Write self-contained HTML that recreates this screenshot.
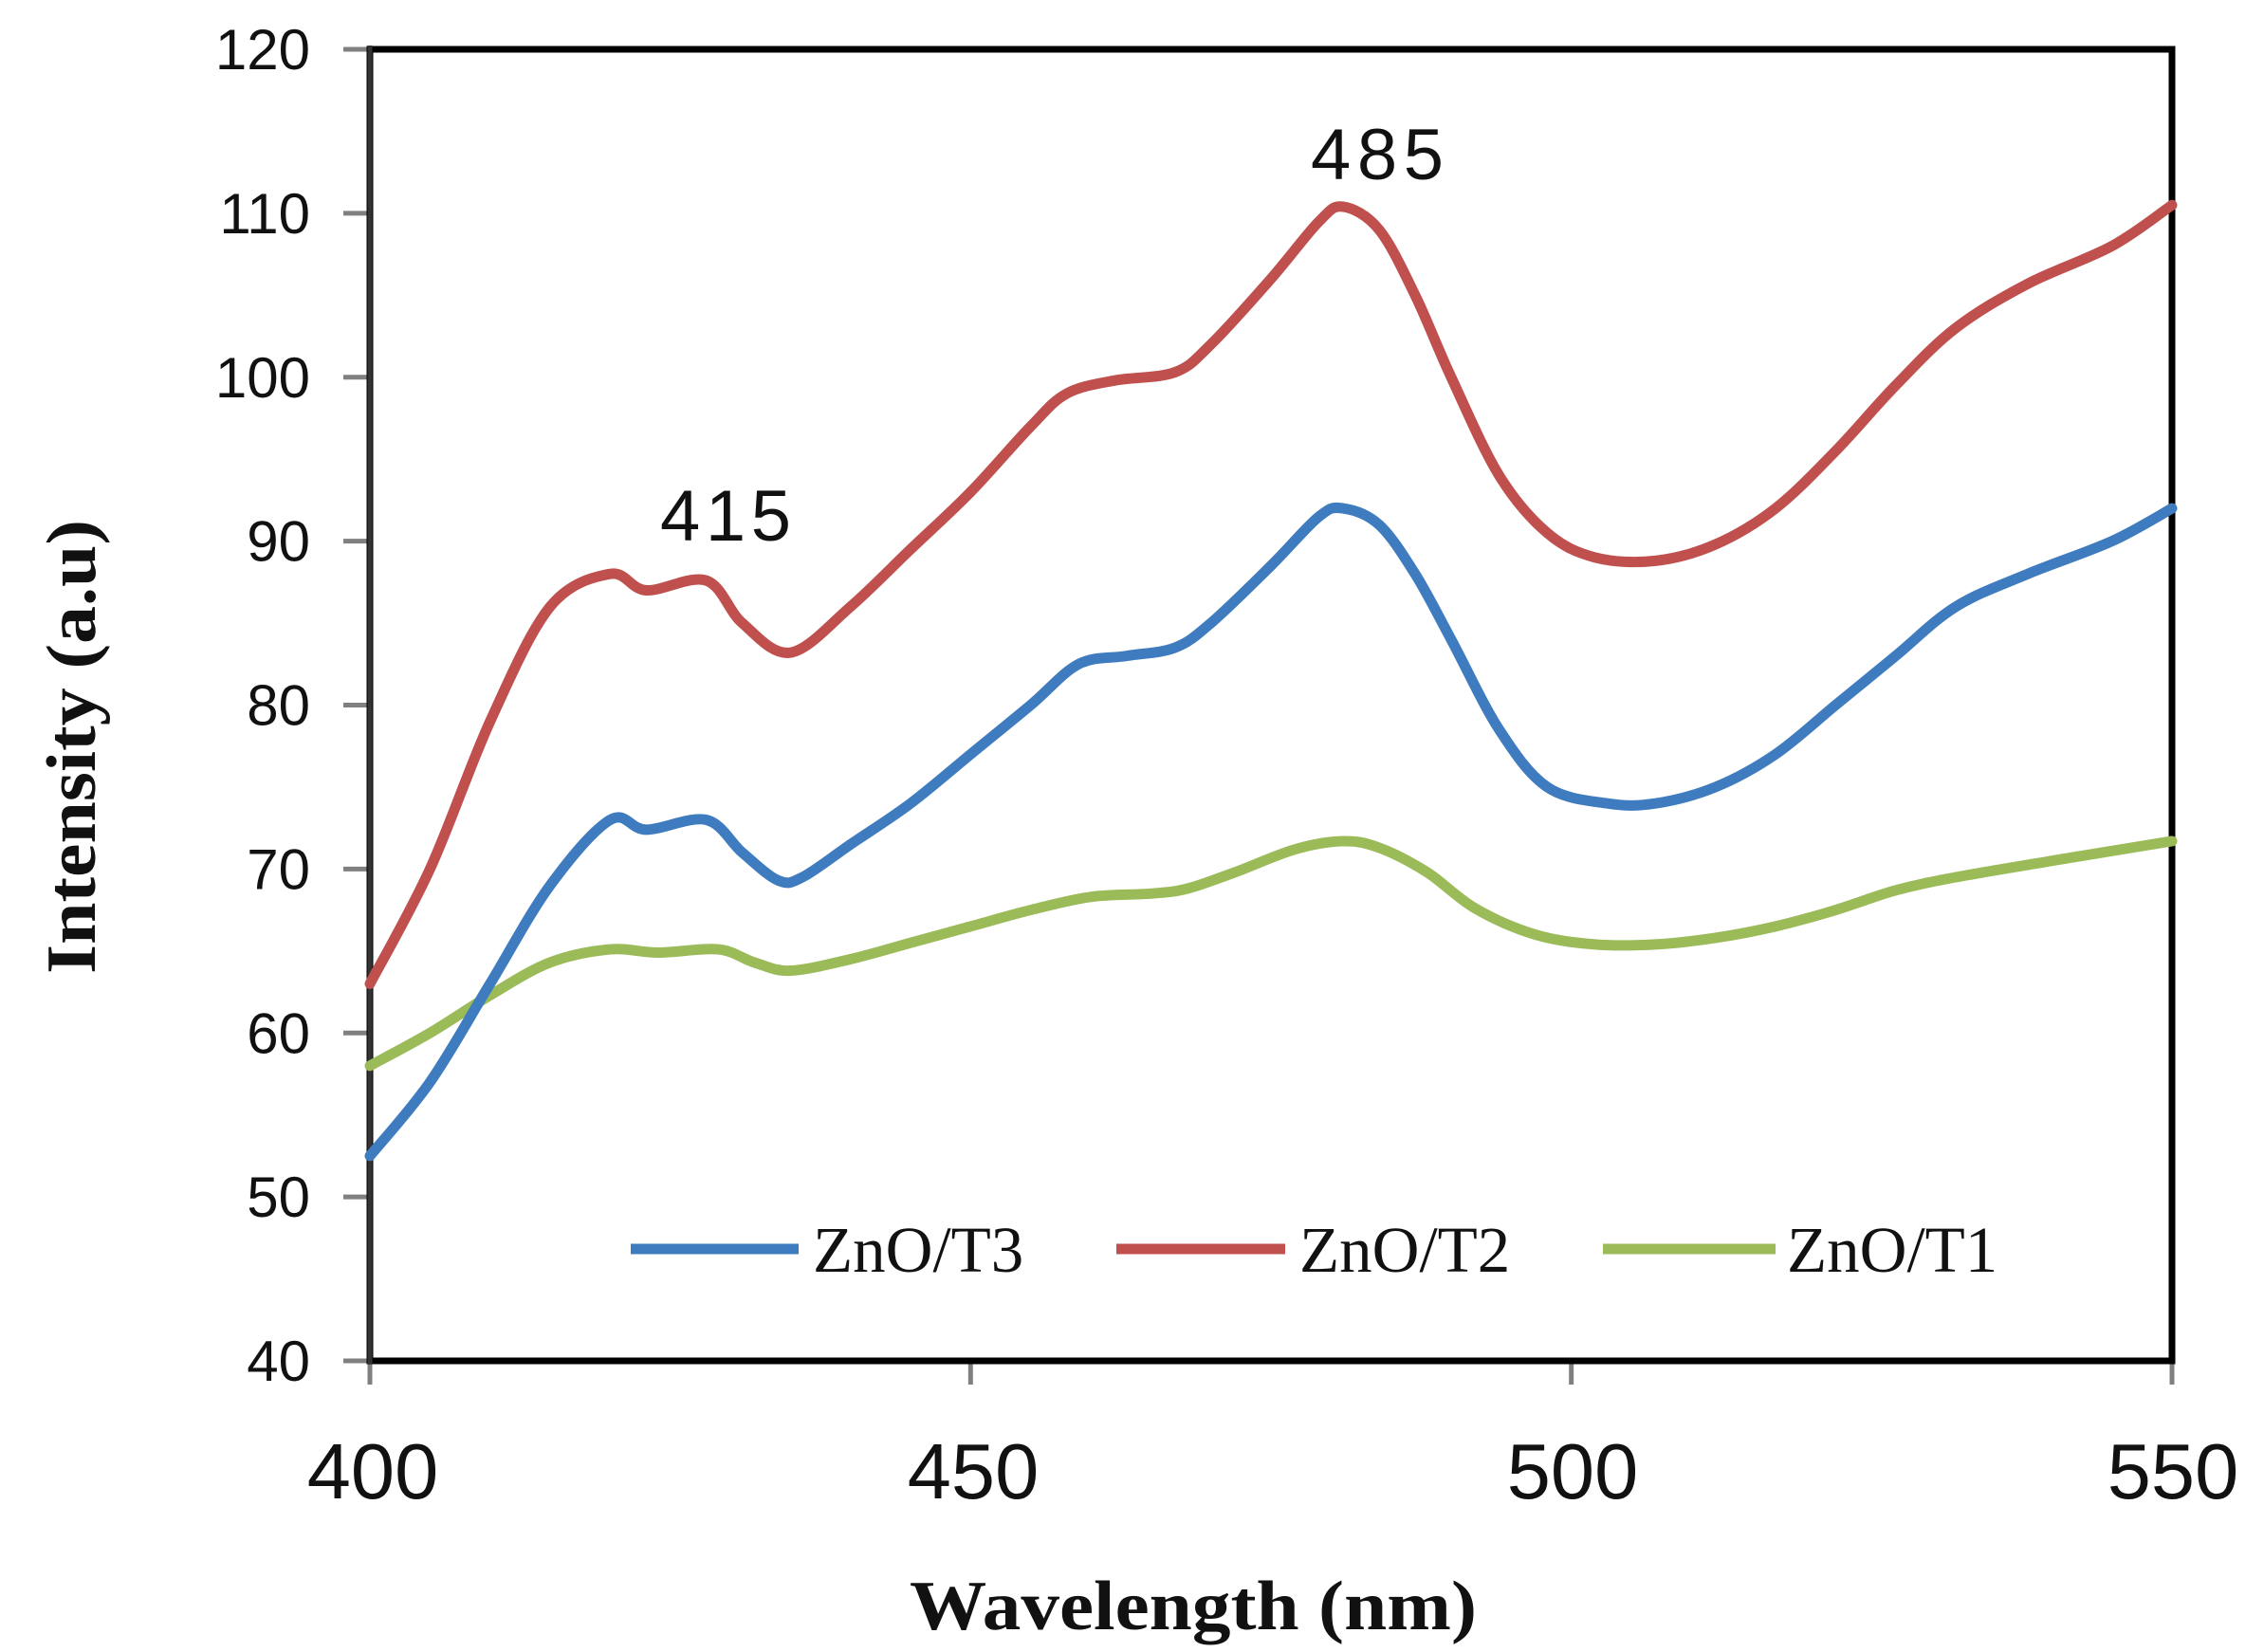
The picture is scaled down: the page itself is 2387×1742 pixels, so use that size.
<!DOCTYPE html>
<html><head><meta charset="utf-8"><style>
html,body{margin:0;padding:0;background:#fff;}
svg{display:block;}
</style></head><body>
<svg id="s" width="2387" height="1742" viewBox="0 0 2387 1742" xmlns="http://www.w3.org/2000/svg">
<rect x="0" y="0" width="2387" height="1742" fill="#fff"/>
<g id="ticks" stroke="#808080" stroke-width="5"></g>
<rect x="390" y="52" width="1900" height="1383" fill="none" stroke="#000" stroke-width="7"/>
<line x1="390" y1="48" x2="390" y2="1438" stroke="#333" stroke-width="5"/>
<g id="lines" fill="none" stroke-width="11" stroke-linejoin="round" stroke-linecap="round"></g>
<g font-family="'Liberation Sans', sans-serif" font-size="60" fill="#111" text-anchor="end" id="ylab"></g>
<g font-family="'Liberation Sans', sans-serif" font-size="83" fill="#111" text-anchor="middle">
<text x="393" y="1580">400</text><text x="1026" y="1580">450</text><text x="1658" y="1580">500</text><text x="2291" y="1580">550</text>
</g>
<g font-family="'Liberation Sans', sans-serif" font-size="76" fill="#111">
<text x="696" y="570" textLength="138">415</text>
<text x="1382" y="189" textLength="140">485</text>
</g>
<text x="959" y="1718" font-family="'Liberation Serif', serif" font-weight="bold" font-size="74" textLength="598" lengthAdjust="spacingAndGlyphs" fill="#111">Wavelength (nm)</text>
<text transform="translate(100,1027) rotate(-90)" font-family="'Liberation Serif', serif" font-weight="bold" font-size="74" textLength="479" lengthAdjust="spacingAndGlyphs" fill="#111">Intensity (a.u)</text>
<g stroke-width="11">
<line x1="665" y1="1317" x2="842" y2="1317" stroke="#3E7BBF"/>
<line x1="1177" y1="1317" x2="1355" y2="1317" stroke="#C0504D"/>
<line x1="1690" y1="1317" x2="1872" y2="1317" stroke="#9BBB59"/>
</g>
<g font-family="'Liberation Serif', serif" font-size="69" fill="#111">
<text x="857" y="1341">ZnO/T3</text><text x="1370" y="1341">ZnO/T2</text><text x="1884" y="1341">ZnO/T1</text>
</g>
</svg>
<script>
var X=function(v){return 390+(v-400)*1900/150;};
var Y=function(v){return 52+(120-v)*1383/80;};
var NS="http://www.w3.org/2000/svg";
var t=document.getElementById('ticks'),yl=document.getElementById('ylab');
for(var v=40;v<=120;v+=10){
 var l=document.createElementNS(NS,'line');l.setAttribute('x1',362);l.setAttribute('x2',390);l.setAttribute('y1',Y(v));l.setAttribute('y2',Y(v));t.appendChild(l);
 var tx=document.createElementNS(NS,'text');tx.setAttribute('x',327);tx.setAttribute('y',Y(v)+21);tx.textContent=v;yl.appendChild(tx);
}
[400,450,500,550].forEach(function(w){var l=document.createElementNS(NS,'line');l.setAttribute('x1',X(w));l.setAttribute('x2',X(w));l.setAttribute('y1',1435);l.setAttribute('y2',1460);t.appendChild(l);});
var data={
"#C0504D":[[400,63],[405,70],[410,79],[415,86],[420,88],[423,87],[428,87.6],[431,85],[435,83.2],[440,86],[445,89.5],[450,93],[455,97],[458,99],[462,99.8],[467,100.3],[470,102],[475,106],[479,109.5],[481,110.4],[484,109],[487,105],[490,100],[494,94],[498,90.5],[502,89],[507,88.8],[512,89.8],[517,92],[522,95.5],[527,99.5],[532,103],[538,105.7],[545,108],[550,110.5]],
"#3E7BBF":[[400,52.5],[405,57],[410,63],[415,69],[420,73],[423,72.4],[428,73],[431,71],[434,69.3],[436,69.5],[440,71.5],[445,74],[450,77],[455,80],[459,82.5],[463,83],[467,83.5],[470,85],[475,88.5],[479,91.5],[481,92],[484,91],[487,88],[490,84],[494,78.5],[498,75],[503,74],[507,74],[512,75],[517,77],[522,80],[527,83],[532,86],[538,88],[545,90],[550,92]],
"#9BBB59":[[400,58],[405,60],[410,62.3],[415,64.3],[420,65.1],[424,64.9],[429,65.1],[432,64.3],[435,63.8],[440,64.5],[445,65.5],[450,66.5],[455,67.5],[460,68.3],[465,68.5],[468,68.8],[472,69.8],[477,71.2],[481,71.7],[484,71.3],[488,69.8],[492,67.6],[497,66],[502,65.4],[507,65.4],[512,65.8],[517,66.5],[522,67.5],[527,68.7],[532,69.5],[540,70.5],[550,71.7]]};
var g=document.getElementById('lines');
["#9BBB59","#3E7BBF","#C0504D"].forEach(function(c){
 var p=data[c].map(function(d){return [X(d[0]),Y(d[1])];});
 var s="M"+p[0][0]+","+p[0][1];
 for(var i=0;i<p.length-1;i++){
  var p0=p[Math.max(i-1,0)],p1=p[i],p2=p[i+1],p3=p[Math.min(i+2,p.length-1)];
  var c1=[p1[0]+(p2[0]-p0[0])/6,p1[1]+(p2[1]-p0[1])/6],c2=[p2[0]-(p3[0]-p1[0])/6,p2[1]-(p3[1]-p1[1])/6];
  s+=" C"+c1+" "+c2+" "+p2;
 }
 var e=document.createElementNS(NS,'path');e.setAttribute('d',s);e.setAttribute('stroke',c);g.appendChild(e);
});
</script>
</body></html>
